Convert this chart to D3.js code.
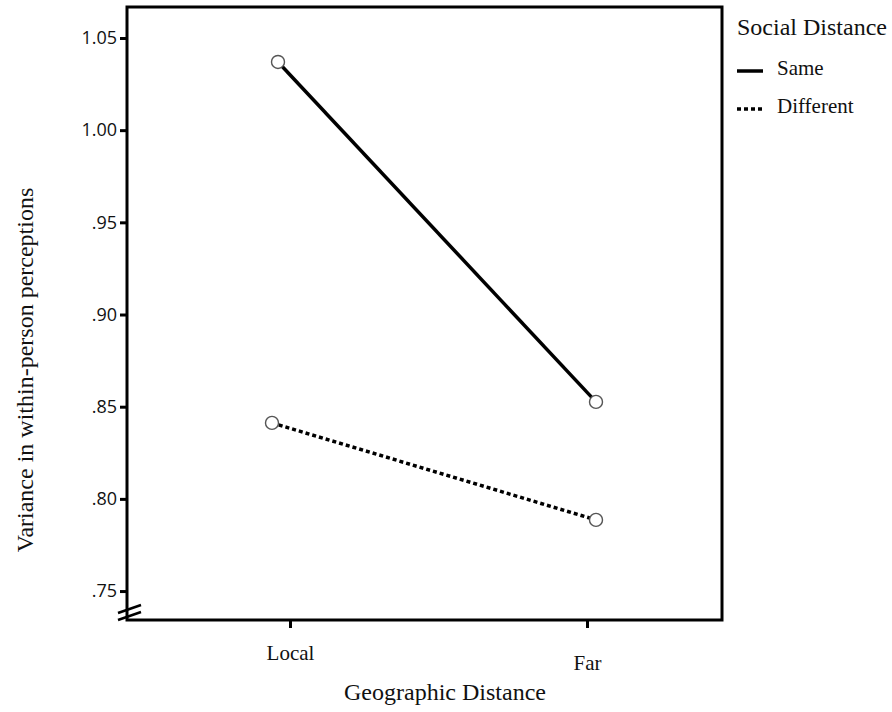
<!DOCTYPE html>
<html><head><meta charset="utf-8">
<script src="https://cdn.jsdelivr.net/npm/d3@7"></script>
<style>body{margin:0;background:#fff}</style>
</head><body>
<svg id="c" width="892" height="712"></svg>
<script>
const categories = ["Local", "Far"];
const seriesNames = ["Same", "Different"];
const sameValues = [1.037, 0.8526];
const differentValues = [0.8412, 0.7886];
const yTicks = [0.75, 0.80, 0.85, 0.90, 0.95, 1.00, 1.05];
const yTickLabels = [".75", ".80", ".85", ".90", ".95", "1.00", "1.05"];

const svg = d3.select("#c");
const L = 127, R = 722, T = 7, B = 620;
const serif = "'Liberation Serif','Times New Roman',serif";

const y = d3.scaleLinear().domain([0.7343, 1.0668]).range([B, T]);
const xAxis = d3.scalePoint().domain(categories).range([290, 587]);
const xMarks = d3.scalePoint().domain(categories).range([275, 596]);

// frame
svg.append("rect").attr("x", L).attr("y", T).attr("width", R - L).attr("height", B - T)
  .attr("fill", "none").attr("stroke", "#000").attr("stroke-width", 3);

// y axis
const ya = svg.append("g").attr("transform", `translate(${L},0)`)
  .call(d3.axisLeft(y).tickValues(yTicks).tickSize(7).tickPadding(3)
    .tickFormat((d, i) => yTickLabels[i]));
ya.select(".domain").remove();
ya.selectAll(".tick line").attr("stroke", "#000").attr("stroke-width", 3);
ya.selectAll(".tick text").attr("font-family", "'Open Sans','DejaVu Sans',sans-serif")
  .attr("font-size", 18).attr("fill", "#111");

// x axis
const xa = svg.append("g").attr("transform", `translate(0,${B})`)
  .call(d3.axisBottom(xAxis).tickSize(8));
xa.select(".domain").remove();
xa.selectAll(".tick line").attr("stroke", "#000").attr("stroke-width", 3);
xa.selectAll(".tick text").attr("font-family", serif)
  .attr("font-size", 21).attr("fill", "#111")
  .attr("dy", 0).attr("y", (d) => d === "Far" ? 50 : 40);

// axis break marks
[0, 7].forEach(o => {
  svg.append("line").attr("x1", L - 9).attr("y1", B - 7 + o).attr("x2", L + 14).attr("y2", B - 15 + o)
    .attr("stroke", "#000").attr("stroke-width", 2.5);
});

// titles
svg.append("text").attr("x", 445).attr("y", 700).attr("text-anchor", "middle")
  .attr("font-family", serif).attr("font-size", 24)
  .attr("fill", "#111").text("Geographic Distance");
svg.append("text").attr("transform", "translate(33,370) rotate(-90)").attr("text-anchor", "middle")
  .attr("font-family", serif).attr("font-size", 24)
  .attr("fill", "#111").text("Variance in within-person perceptions");

// series
const series = [
  {name: seriesNames[0], values: sameValues, dash: null, dx: [3, 0]},
  {name: seriesNames[1], values: differentValues, dash: "4,3", dx: [-3, 0]}
];
const line = d3.line().x(d => d.x).y(d => d.y);
series.forEach(s => {
  const pts = categories.map((c, i) => ({x: xMarks(c) + s.dx[i], y: y(s.values[i])}));
  svg.append("path").attr("d", line(pts)).attr("fill", "none").attr("stroke", "#000")
    .attr("stroke-width", 3.5).attr("stroke-dasharray", s.dash);
  svg.selectAll(null).data(pts).enter().append("circle")
    .attr("cx", d => d.x).attr("cy", d => d.y).attr("r", 6.5)
    .attr("fill", "#fff").attr("stroke", "#555").attr("stroke-width", 1.4);
});

// legend
const lg = svg.append("g");
lg.append("text").attr("x", 737).attr("y", 35)
  .attr("font-family", serif).attr("font-size", 24)
  .attr("fill", "#111").text("Social Distance");
series.forEach((s, i) => {
  const yy = 71 + i * 38;
  lg.append("line").attr("x1", 737).attr("x2", 763).attr("y1", yy).attr("y2", yy)
    .attr("stroke", "#000").attr("stroke-width", 3.5).attr("stroke-dasharray", s.dash);
  lg.append("text").attr("x", 777).attr("y", yy + 4)
    .attr("font-family", serif).attr("font-size", 21)
    .attr("fill", "#111").text(s.name);
});
</script>
</body></html>
